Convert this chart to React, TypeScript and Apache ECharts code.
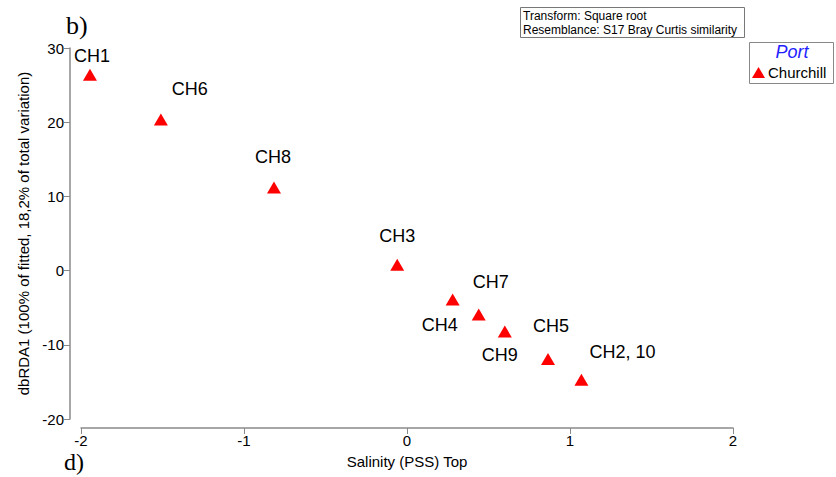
import React, { useEffect, useRef } from "react";
import * as echarts from "echarts";

const stationNames = ["CH1", "CH6", "CH8", "CH3", "CH4", "CH7", "CH9", "CH5", "CH2, 10"];
const salinity = [-1.945, -1.51, -0.816, -0.06, 0.28, 0.44, 0.6, 0.865, 1.07];
const dbRDA1 = [26.4, 20.35, 11.2, 0.8, -3.9, -5.9, -8.2, -11.9, -14.7];
const xTicks = [-2, -1, 0, 1, 2];
const yTicks = [-20, -10, 0, 10, 20, 30];
const seriesName = "Churchill";
const legendTitle = "Port";
const infoLines = ["Transform: Square root", "Resemblance: S17 Bray Curtis similarity"];

// label placement relative to each marker (styling)
const labelOffsets: [number, number][] = [
  [2, -19], [29, -31], [-1, -30], [0, -29], [-13, 25], [12, -32], [-5, 24], [3, -33], [41, -28],
];

const FONT = "Arial, 'Liberation Sans', Helvetica, sans-serif";

export default function App() {
  const ref = useRef<HTMLDivElement>(null);
  useEffect(() => {
    if (!ref.current) return;
    const chart = echarts.init(ref.current, null, { renderer: "svg" });
    const data = stationNames.map((n, i) => ({
      name: n,
      value: [salinity[i], dbRDA1[i]],
      label: { offset: labelOffsets[i] },
    }));
    chart.setOption({
      animation: false,
      backgroundColor: "#ffffff",
      textStyle: { fontFamily: FONT },
      grid: { left: 81, right: 103, top: 48, bottom: 58, containLabel: false },
      xAxis: {
        type: "value",
        min: xTicks[0],
        max: xTicks[xTicks.length - 1],
        interval: 1,
        offset: 9,
        name: "Salinity (PSS) Top",
        nameLocation: "middle",
        nameGap: 26,
        nameTextStyle: { color: "#000", fontSize: 15, fontFamily: FONT },
        axisLine: { show: true, onZero: false, lineStyle: { color: "#8a8a8a", width: 1.5 } },
        axisTick: { show: true, length: 6, lineStyle: { color: "#8a8a8a" } },
        axisLabel: { color: "#000", fontSize: 15, margin: 5, fontFamily: FONT },
        splitLine: { show: false },
      },
      yAxis: {
        type: "value",
        min: yTicks[0],
        max: yTicks[yTicks.length - 1],
        interval: 10,
        offset: 11,
        name: "dbRDA1 (100% of fitted, 18,2% of total variation)",
        nameLocation: "middle",
        nameGap: 23,
        nameRotate: 90,
        nameTextStyle: { color: "#000", fontSize: 15, fontFamily: FONT },
        axisLine: { show: true, onZero: false, lineStyle: { color: "#8a8a8a", width: 1.5 } },
        axisTick: { show: true, length: 6, lineStyle: { color: "#8a8a8a" } },
        axisLabel: { color: "#000", fontSize: 15, margin: 6, fontFamily: FONT },
        splitLine: { show: false },
      },
      legend: {
        show: true,
        left: 752,
        top: 65,
        icon: "triangle",
        itemWidth: 13,
        itemHeight: 11,
        itemGap: 4,
        padding: 0,
        itemStyle: { opacity: 1 },
        textStyle: { color: "#000", fontSize: 15, fontFamily: FONT, padding: [0, 0, 0, -2] },
        data: [seriesName],
      },
      series: [
        {
          name: seriesName,
          type: "scatter",
          symbol: "triangle",
          symbolSize: [14, 12],
          itemStyle: { color: "#ff0000", opacity: 1 },
          label: {
            show: true,
            position: "inside",
            formatter: "{b}",
            color: "#000000",
            opacity: 1,
            textBorderWidth: 0,
            textBorderColor: "transparent",
            fontSize: 18,
            fontFamily: FONT,
          },
          data,
        },
      ],
      graphic: [
        {
          type: "text",
          left: 66,
          top: 12,
          style: { text: "b)", font: "26px 'Liberation Serif', 'Times New Roman', serif", fill: "#000" },
        },
        {
          type: "text",
          left: 64,
          top: 450,
          style: { text: "d)", font: "24px 'Liberation Serif', 'Times New Roman', serif", fill: "#000" },
        },
        {
          type: "rect",
          shape: { x: 520.5, y: 7.5, width: 224, height: 30 },
          style: { fill: "#fff", stroke: "#777", lineWidth: 1 },
        },
        {
          type: "text",
          x: 523,
          y: 8.5,
          style: { text: infoLines.join("\n"), font: `12px ${FONT}`, fill: "#000", lineHeight: 14 },
        },
        {
          type: "rect",
          shape: { x: 749.5, y: 42.5, width: 84, height: 41 },
          style: { fill: "none", stroke: "#888", lineWidth: 1 },
        },
        {
          type: "text",
          x: 792,
          y: 43,
          style: {
            text: legendTitle,
            font: `italic 18px ${FONT}`,
            fill: "#1f1fff",
            align: "center",
          },
        },
      ],
    });
    return () => chart.dispose();
  }, []);
  return (
    <div
      ref={ref}
      style={{ position: "fixed", left: 0, top: 0, width: 836, height: 477 }}
    />
  );
}
